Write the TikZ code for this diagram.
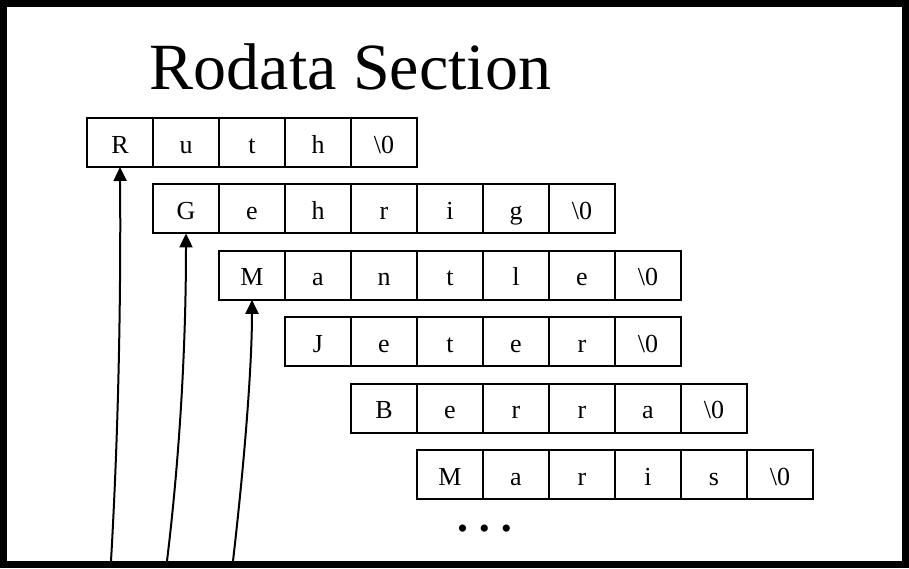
\documentclass[tikz,border=0pt]{standalone}
\usepackage{fontspec}
\setmainfont{Liberation Serif}
\usetikzlibrary{arrows.meta,positioning}
\newcommand{\nulch}{\textbackslash 0}

\begin{document}
\begin{tikzpicture}[
    x=0.5pt, y=-0.5pt,
    cell/.style={draw=black, line width=1pt, minimum width=33pt, minimum height=24.5pt, inner sep=0pt, outer sep=0pt, font=\fontsize{13}{15}\selectfont, text height=10.5pt, text depth=0pt},
    ptr/.style={-{Triangle[length=7pt,width=6.5pt]}, line width=1pt}
]
\useasboundingbox (0,0) rectangle (909,568);
\draw[line width=3.5pt] (3.5,3.5) rectangle (905.5,564.5);

\node[anchor=base, font=\fontsize{33}{36}\selectfont] (title) at (350.5,89) {Rodata Section};

% one row of cells per string
\foreach \word/\letters [count=\r] in {ruth/{R,u,t,h,\nulch}, gehrig/{G,e,h,r,i,g,\nulch}, mantle/{M,a,n,t,l,e,\nulch}, jeter/{J,e,t,e,r,\nulch}, berra/{B,e,r,r,a,\nulch}, maris/{M,a,r,i,s,\nulch}}
  \foreach \ch [count=\c] in \letters
    \node[cell] (\word\c) at ({120+66*(\r-1)+66*(\c-1)}, {142.5+66.4*(\r-1)}) {\ch};

\node[font=\fontsize{15}{17}\selectfont, inner sep=0pt] (dots) at (484.5,532) {\textbullet\hspace{5.75pt}\textbullet\hspace{5.75pt}\textbullet};

% pointers from below
\coordinate (base1) at (111,561);
\coordinate (base2) at (167,561);
\coordinate (base3) at (233,561);
\draw[ptr] (base1) .. controls +(7,-121) and +(1,142) .. (ruth1.south);
\draw[ptr] (base2) .. controls +(13,-107) and +(0,110) .. (gehrig1.south);
\draw[ptr] (base3) .. controls +(13,-113) and +(0,60) .. (mantle1.south);

\end{tikzpicture}
\end{document}
